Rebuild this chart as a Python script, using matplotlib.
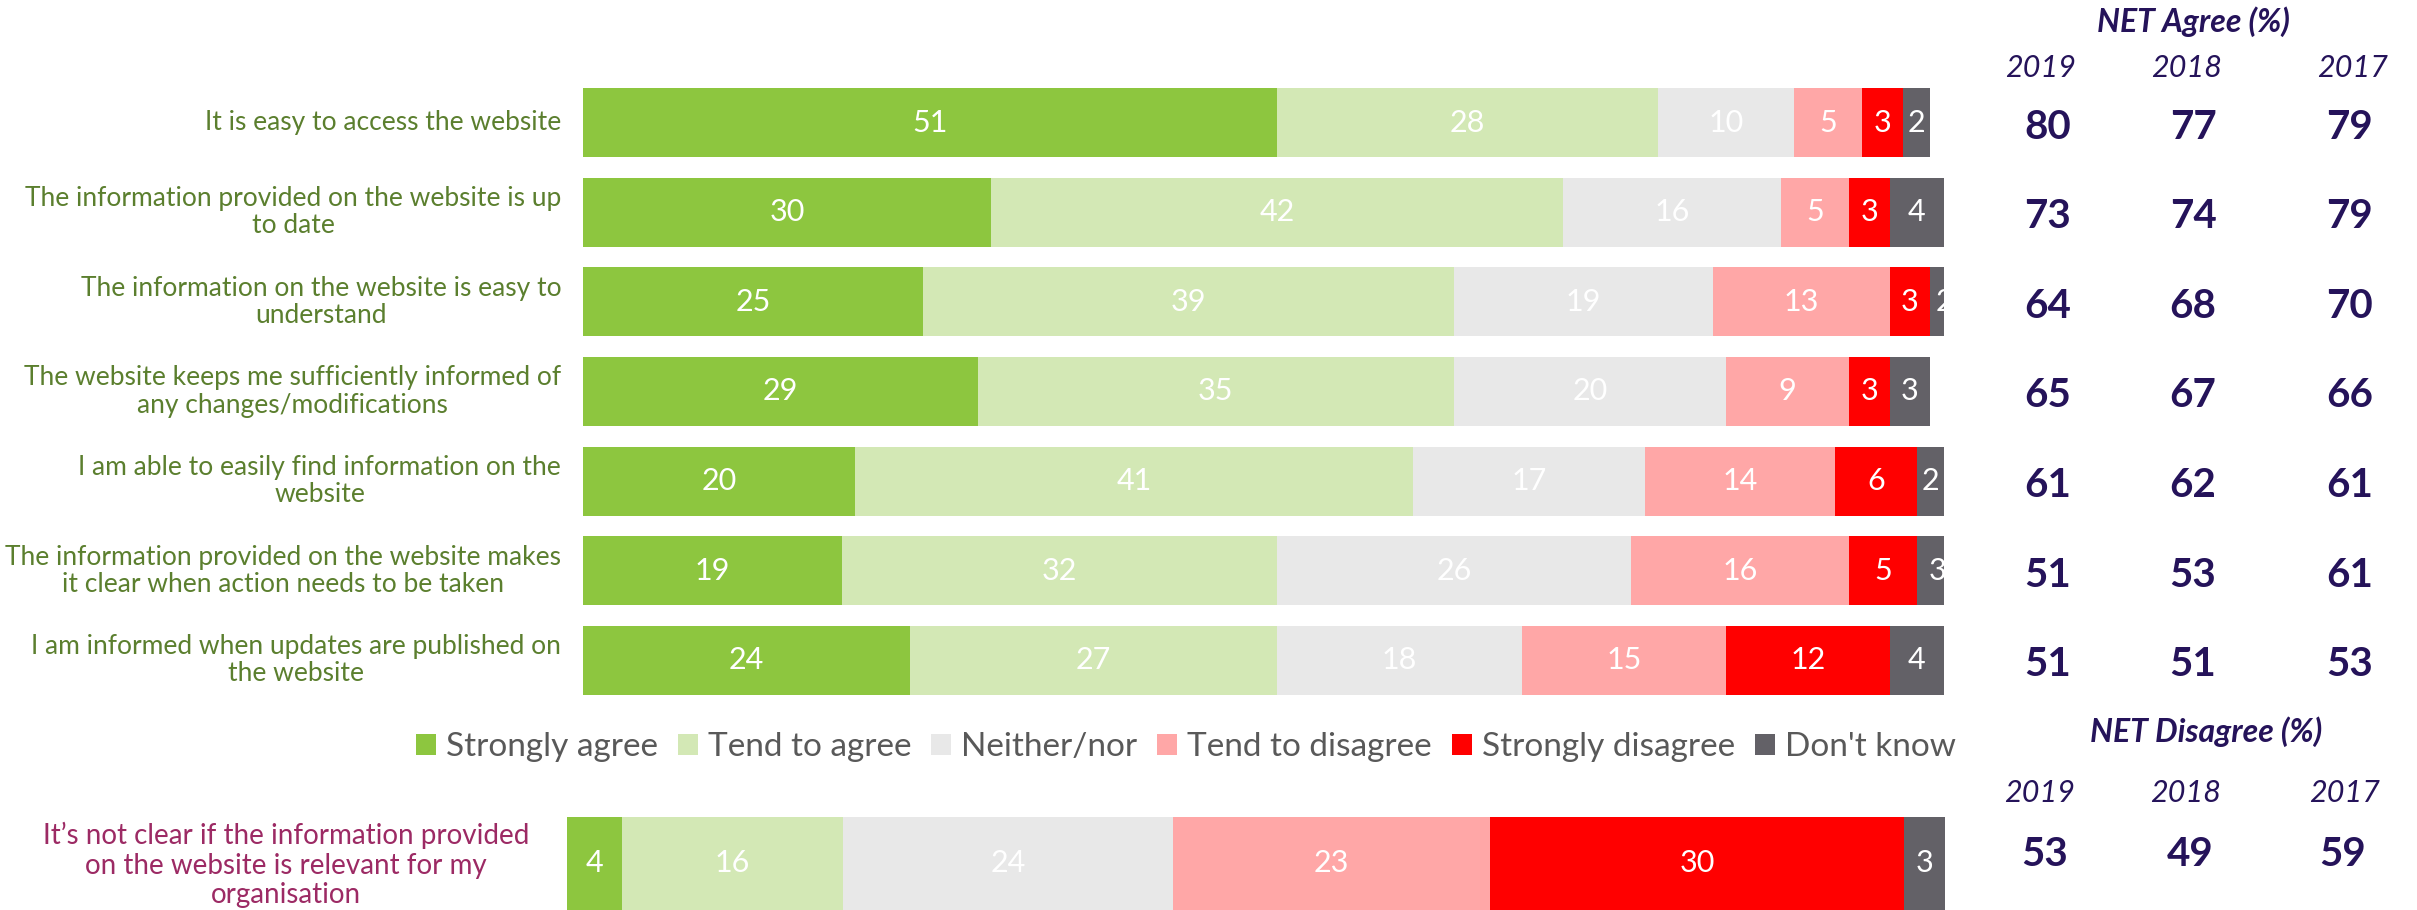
import matplotlib
matplotlib.use("Agg")
import matplotlib.pyplot as plt
from matplotlib.patches import Patch
from matplotlib.transforms import blended_transform_factory

plt.rcParams['font.family'] = ['Lato', 'DejaVu Sans']

W, H = 2417, 910

categories = ["Strongly agree", "Tend to agree", "Neither/nor",
              "Tend to disagree", "Strongly disagree", "Don't know"]
colors = ["#8dc63f", "#d3e8b5", "#e8e8e8", "#ffa7a7", "#ff0000", "#636167"]

statements = [
    "It is easy to access the website",
    "The information provided on the website is up\nto date",
    "The information on the website is easy to\nunderstand",
    "The website keeps me sufficiently informed of\nany changes/modifications",
    "I am able to easily find information on the\nwebsite",
    "The information provided on the website makes\nit clear when action needs to be taken",
    "I am informed when updates are published on\nthe website",
]
strongly_agree = [51, 30, 25, 29, 20, 19, 24]
tend_agree = [28, 42, 39, 35, 41, 32, 27]
neither = [10, 16, 19, 20, 17, 26, 18]
tend_disagree = [5, 5, 13, 9, 14, 16, 15]
strongly_disagree = [3, 3, 3, 3, 6, 5, 12]
dont_know = [2, 4, 2, 3, 2, 3, 4]

years = ["2019", "2018", "2017"]
net_agree_2019 = [80, 73, 64, 65, 61, 51, 51]
net_agree_2018 = [77, 74, 68, 67, 62, 53, 51]
net_agree_2017 = [79, 79, 70, 66, 61, 61, 53]

neg_statement = "It\u2019s not clear if the information provided\non the website is relevant for my\norganisation"
neg_values = [4, 16, 24, 23, 30, 3]
net_disagree = [53, 49, 59]

label_green = "#5b7f2e"
label_purple = "#9c2a64"
num_color = "#25135a"
legend_grey = "#595959"

series = [strongly_agree, tend_agree, neither, tend_disagree,
          strongly_disagree, dont_know]

fig = plt.figure(figsize=(W / 100, H / 100), dpi=100)

# top block
ax = fig.add_axes([583 / W, 1 - 705 / H, 1361 / W, 627 / H])
ax.set_xlim(0, 100)
ax.set_ylim(6.5, -0.5)
ax.axis('off')

rows = list(range(len(statements)))
left = [0] * len(statements)
for vals, col in zip(series, colors):
    bars = ax.barh(rows, vals, left=left, height=0.77, color=col,
                   edgecolor='none')
    for b, v, l, r in zip(bars, vals, left, rows):
        t = ax.text(l + v / 2, r, str(v), ha='center', va='center',
                    color='white', fontsize=22)
        t.set_clip_path(b)
    left = [a + b for a, b in zip(left, vals)]

for r, s in zip(rows, statements):
    ax.text(-1.6, r, s, ha='right', va='center', multialignment='center',
            color=label_green, fontsize=19, linespacing=1.1)

tr = blended_transform_factory(fig.transFigure, ax.transData)
num_x = [2048 / W, 2193 / W, 2350 / W]
for cx, vals in zip(num_x, [net_agree_2019, net_agree_2018, net_agree_2017]):
    for r, v in zip(rows, vals):
        ax.text(cx, r + 0.05, str(v), transform=tr, ha='center', va='center',
                color=num_color, fontsize=29, fontweight='bold')

fig.text(2193 / W, 1 - 22 / H, "NET Agree (%)", ha='center', va='center',
         color=num_color, fontsize=23, fontweight='bold', style='italic')
year_x = [2041 / W, 2187 / W, 2353 / W]
for cx, y in zip(year_x, years):
    fig.text(cx, 1 - 68 / H, y, ha='center', va='center', color=num_color,
             fontsize=22, style='italic')

# legend
handles = [Patch(facecolor=c, edgecolor='none') for c in colors]
fig.legend(handles, categories, loc='center', ncol=6,
           bbox_to_anchor=(1186 / W, 1 - 747 / H), frameon=False,
           fontsize=24, handlelength=0.6, handleheight=0.6,
           handletextpad=0.3, columnspacing=0.6, labelcolor=legend_grey)

# bottom block
ax2 = fig.add_axes([567 / W, 0, 1378 / W, 93 / H])
ax2.set_xlim(0, 100)
ax2.set_ylim(-1, 1)
ax2.axis('off')
l = 0
for v, col in zip(neg_values, colors):
    b = ax2.barh([-0.5], [v], left=[l], height=3, color=col, edgecolor='none')[0]
    t = ax2.text(l + v / 2, 0.0, str(v), ha='center', va='center',
                 color='white', fontsize=22)
    t.set_clip_path(b)
    l += v
fig.text(286 / W, 1 - 865 / H, neg_statement, ha='center', va='center',
         multialignment='center', color=label_purple, fontsize=20,
         linespacing=1.15)

fig.text(2206 / W, 1 - 732 / H, "NET Disagree (%)", ha='center', va='center',
         color=num_color, fontsize=23, fontweight='bold', style='italic')
year_x2 = [2040 / W, 2186 / W, 2345 / W]
num_x2 = [2045 / W, 2190 / W, 2343 / W]
for yx, nx, y, v in zip(year_x2, num_x2, years, net_disagree):
    fig.text(yx, 1 - 793 / H, y, ha='center', va='center', color=num_color,
             fontsize=22, style='italic')
    fig.text(nx, 1 - 854 / H, str(v), ha='center', va='center',
             color=num_color, fontsize=29, fontweight='bold')

fig.savefig("out.png", dpi=100)
